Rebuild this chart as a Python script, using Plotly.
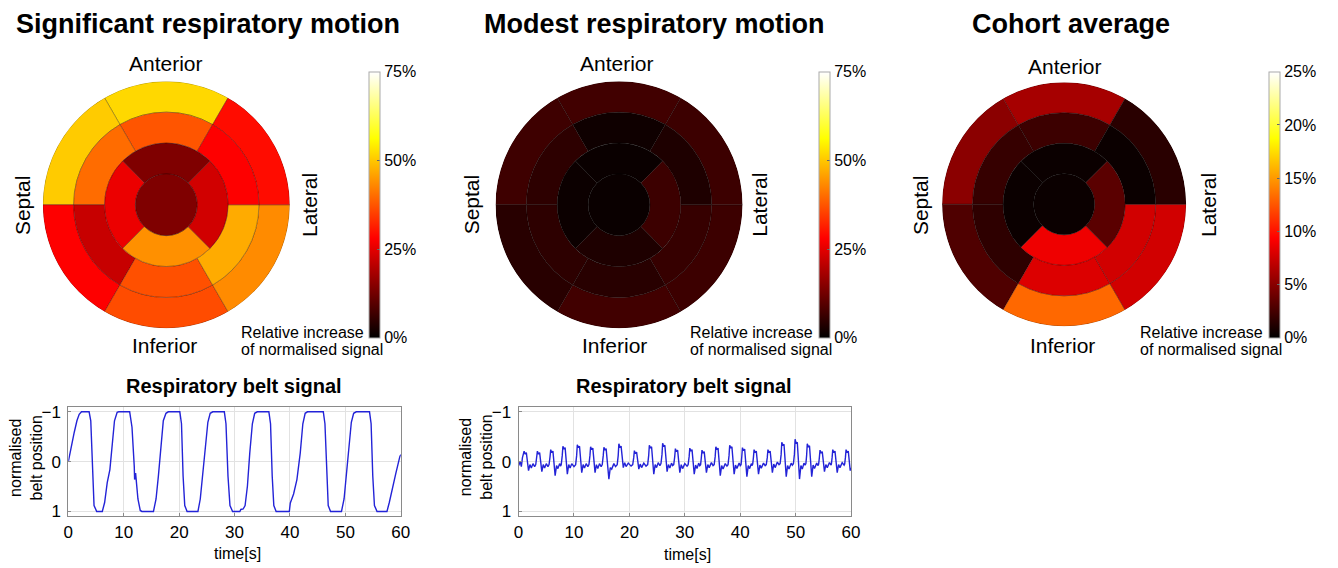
import plotly.graph_objects as go

W, H = 1338, 568
FONT = "Liberation Sans, Arial, Helvetica, sans-serif"

# ---------------- data ----------------
# segment order (basal & mid): anterior, anteroseptal, inferoseptal, inferior, inferolateral, anterolateral
# segment order (apical): anterior, septal, inferior, lateral
sig_basal = [52, 50.5, 28, 36.5, 43.5, 29.5]
sig_mid = [37.5, 40, 22, 37, 47, 28]
sig_apical = [14, 26, 44, 23]
sig_apex = [14]

mod_basal = [7.2, 6.8, 4.4, 7.2, 6.6, 6.6]
mod_mid = [1.7, 5.0, 5.0, 4.4, 6.0, 3.3]
mod_apical = [1.1, 1.3, 3.3, 6.6]
mod_apex = [1.1]

coh_basal = [6.1, 5.1, 2.9, 13.2, 7.7, 1.5]
coh_mid = [2.2, 2.0, 1.7, 8.1, 7.7, 0.4]
coh_apical = [0.4, 0.4, 8.8, 3.3]
coh_apex = [0.4]

cb_ticks_75 = [0, 25, 50, 75]
cb_ticks_25 = [0, 5, 10, 15, 20, 25]

# respiratory belt signal, significant motion
belt1_t = [0.0, 0.48, 1.07, 1.55, 1.96, 2.38, 3.75, 4.05, 4.35, 4.64, 5.12,
           6.13, 6.55, 7.02, 7.5, 7.92, 8.33, 8.81, 9.1,
           11.07, 11.49, 11.9, 11.96, 12.14, 12.26, 12.56, 12.98, 13.27,
           15.36, 15.83, 16.25, 16.67, 17.14, 17.62, 18.04,
           20.12, 20.42, 20.71, 21.01, 21.43,
           23.39, 23.81, 24.29, 24.76, 25.18, 25.6, 26.07,
           28.15, 28.45, 28.81, 29.17, 29.64,
           30.95, 31.13, 31.55, 31.9, 32.32, 32.74, 33.21, 33.63, 34.1,
           36.19, 36.49, 36.79, 37.08, 37.5,
           39.88, 40.06, 40.24, 40.65, 41.25, 41.85, 42.32, 42.74, 43.15,
           46.01, 46.31, 46.61, 46.9, 47.32,
           49.29, 49.76, 50.24, 50.71, 51.07, 51.49, 51.96,
           54.35, 54.64, 54.94, 55.24, 55.71,
           57.5, 57.92, 58.51, 59.11, 59.82, 60.0]
belt1_v = [0.0, -0.3, -0.59, -0.82, -0.95, -1.0, -1.0, -0.82, 0.29, 0.88, 1.0,
           1.0, 0.82, 0.42, 0.16, -0.36, -0.82, -0.99, -1.0,
           -1.0, -0.69, 0.1, 0.36, 0.23, 0.39, 0.75, 0.98, 1.0,
           1.0, 0.75, 0.29, -0.3, -0.82, -0.97, -1.0,
           -1.0, -0.76, 0.29, 0.88, 1.0,
           1.0, 0.75, 0.23, -0.36, -0.79, -0.97, -1.0,
           -1.0, -0.76, 0.29, 0.88, 1.0,
           1.0, 0.96, 0.95, 0.88, 0.49, -0.17, -0.76, -0.97, -1.0,
           -1.0, -0.76, 0.29, 0.88, 1.0,
           1.0, 0.83, 0.78, 0.65, 0.36, -0.17, -0.76, -0.97, -1.0,
           -1.0, -0.76, 0.29, 0.88, 1.0,
           1.0, 0.75, 0.23, -0.36, -0.79, -0.97, -1.0,
           -1.0, -0.76, 0.29, 0.88, 1.0,
           1.0, 0.82, 0.49, 0.23, -0.1, -0.14]

# respiratory belt signal, modest motion (one breathing cycle per line)
belt2_t = [0.0, 0.3, 0.5,
           0.7, 1.0, 1.2, 1.4, 1.8, 2.05, 2.3, 2.6, 2.9,
           3.1, 3.28, 3.4, 3.6, 3.8, 4.2, 4.45, 4.7, 5.0, 5.3,
           5.5, 5.68, 5.8, 6.0, 6.2, 6.6, 6.85, 7.1, 7.4, 7.6,
           7.7, 7.88, 8.0, 8.2, 8.4, 8.8, 9.05, 9.3, 9.6, 10.0,
           10.3, 10.48, 10.6, 10.8, 11.0, 11.4, 11.65, 11.9, 12.2, 12.5,
           12.7, 12.88, 13.0, 13.2, 13.4, 13.8, 14.05, 14.3, 14.6, 14.9,
           15.1, 15.28, 15.4, 15.6, 15.8, 16.3, 16.55, 16.8, 17.2, 17.5,
           17.8, 17.98, 18.1, 18.3, 18.5, 18.9, 19.15, 19.4, 19.8, 20.3,
           20.6, 20.78, 20.9, 21.1, 21.3, 21.7, 21.95, 22.2, 22.6, 23.0,
           23.3, 23.48, 23.6, 23.8, 24.0, 24.4, 24.65, 24.9, 25.2, 25.5,
           25.7, 25.88, 26.0, 26.2, 26.4, 26.8, 27.05, 27.3, 27.6, 27.8,
           28.0, 28.18, 28.3, 28.5, 28.7, 29.1, 29.35, 29.6, 30.0, 30.4,
           30.6, 30.78, 30.9, 31.1, 31.3, 31.7, 31.95, 32.2, 32.5, 32.7,
           32.85, 32.98, 33.1, 33.3, 33.5, 33.9, 34.15, 34.4, 34.8, 35.1,
           35.3, 35.48, 35.6, 35.8, 36.0, 36.4, 36.65, 36.9, 37.3, 37.6,
           37.8, 37.98, 38.1, 38.3, 38.5, 38.9, 39.15, 39.4, 39.8, 40.0,
           40.15, 40.28, 40.4, 40.6, 40.8, 41.2, 41.45, 41.7, 42.0, 42.15,
           42.25, 42.38, 42.5, 42.7, 42.9, 43.3, 43.55, 43.8, 44.2, 44.5,
           44.7, 44.88, 45.0, 45.2, 45.4, 45.8, 46.05, 46.3, 46.7, 47.0,
           47.2, 47.38, 47.5, 47.7, 47.9, 48.3, 48.55, 48.8, 49.2, 49.4,
           49.6, 49.78, 49.9, 50.1, 50.3, 50.7, 50.95, 51.2, 51.5, 51.7,
           51.85, 51.98, 52.1, 52.3, 52.5, 52.9, 53.15, 53.4, 53.8, 54.05,
           54.15, 54.28, 54.4, 54.6, 54.8, 55.2, 55.45, 55.7, 56.1, 56.4,
           56.45, 56.58, 56.7, 56.9, 57.1, 57.5, 57.75, 58.0, 58.4, 58.75,
           58.85, 58.98, 59.1, 59.3, 59.5, 59.85, 60.0]
belt2_v = [0.08, 0.0, 0.1,
           -0.08, -0.21, -0.15, -0.18, 0.18, 0.06, 0.13, 0.04, 0.1,
           0.06, -0.1, -0.21, -0.15, -0.18, 0.2, 0.06, 0.13, 0.04, 0.1,
           0.06, -0.1, -0.24, -0.18, -0.21, 0.28, 0.08, 0.14, 0.04, 0.09,
           0.06, -0.12, -0.31, -0.25, -0.28, 0.25, 0.06, 0.13, 0.04, 0.1,
           0.06, -0.12, -0.34, -0.28, -0.31, 0.22, 0.06, 0.13, 0.04, 0.1,
           0.06, -0.12, -0.3, -0.24, -0.27, 0.22, 0.06, 0.14, 0.04, 0.1,
           0.06, -0.12, -0.29, -0.23, -0.26, 0.35, 0.12, 0.15, 0.04, 0.1,
           0.06, -0.12, -0.36, -0.28, -0.31, 0.12, 0.02, 0.1, 0.03, 0.09,
           0.06, -0.08, -0.22, -0.16, -0.19, 0.15, 0.05, 0.12, 0.03, 0.09,
           0.06, -0.12, -0.33, -0.27, -0.3, 0.25, 0.06, 0.12, 0.02, 0.08,
           0.04, -0.14, -0.37, -0.3, -0.33, 0.2, 0.06, 0.13, 0.03, 0.08,
           0.06, -0.1, -0.26, -0.2, -0.23, 0.22, 0.06, 0.14, 0.04, 0.09,
           0.06, -0.1, -0.27, -0.21, -0.24, 0.25, 0.07, 0.14, 0.03, 0.08,
           0.06, -0.08, -0.23, -0.17, -0.2, 0.22, 0.06, 0.12, 0.02, 0.08,
           0.06, -0.1, -0.3, -0.24, -0.27, 0.28, 0.08, 0.15, 0.04, 0.09,
           0.06, -0.12, -0.33, -0.27, -0.3, 0.25, 0.07, 0.14, 0.03, 0.08,
           0.06, -0.1, -0.28, -0.22, -0.25, 0.3, 0.08, 0.14, 0.04, 0.08,
           0.05, -0.08, -0.24, -0.18, -0.21, 0.25, 0.07, 0.13, 0.03, 0.08,
           0.06, -0.08, -0.24, -0.18, -0.21, 0.22, 0.05, 0.12, 0.01, 0.06,
           0.04, -0.14, -0.39, -0.32, -0.35, 0.3, 0.08, 0.15, 0.03, 0.07,
           0.04, -0.15, -0.45, -0.36, -0.39, 0.35, 0.08, 0.15, 0.03, 0.07,
           0.04, -0.12, -0.36, -0.29, -0.32, 0.3, 0.07, 0.14, 0.03, 0.08,
           0.05, -0.08, -0.23, -0.17, -0.2, 0.2, 0.06, 0.12, 0.02, 0.07,
           0.05, -0.08, -0.24, -0.18, -0.21, 0.22, 0.06, 0.12, 0.02, 0.07,
           0.05, -0.08, -0.24, -0.18, -0.21, 0.18, 0.12]

time_ticks = [0, 10, 20, 30, 40, 50, 60]
belt_ticks = [-1, 0, 1]

# ---------------- helpers ----------------
def px(x):
    return x / W


def py(y):
    return 1 - y / H


HOT = [[0, "rgb(0,0,0)"], [0.375, "rgb(255,0,0)"], [0.75, "rgb(255,255,0)"], [1, "rgb(255,255,255)"]]
BASAL_THETA = [90, 150, 210, 270, 330, 30]
APICAL_THETA = [90, 180, 270, 0]

fig = go.Figure()


def bullseye(vb, vm, va, vx, cmax, ticks, subplot, cb_left):
    color = vb + vm + va + vx
    theta = BASAL_THETA + BASAL_THETA + APICAL_THETA + [0]
    width = [60] * 12 + [90] * 4 + [360]
    base = [3] * 6 + [2] * 6 + [1] * 4 + [0]
    r = [1] * 17
    fig.add_trace(go.Barpolar(
        r=r, base=base, theta=theta, width=width,
        marker=dict(
            color=color, colorscale=HOT, cmin=0, cmax=cmax,
            line=dict(color="rgba(0,0,0,0.38)", width=0.7),
            showscale=True,
            colorbar=dict(
                x=px(cb_left), xanchor="left", xpad=0,
                y=py(204), yanchor="middle", ypad=0,
                len=266, lenmode="pixels",
                thickness=11, thicknessmode="pixels",
                outlinewidth=1, outlinecolor="#aaaaaa",
                tickvals=ticks, ticktext=[f"{t}%" for t in ticks],
                ticks="inside", ticklen=3, tickcolor="#666",
                tickfont=dict(family=FONT, size=16, color="black"),
            ),
        ),
        subplot=subplot, showlegend=False, hoverinfo="skip",
    ))


bullseye(sig_basal, sig_mid, sig_apical, sig_apex, 75, cb_ticks_75, "polar", 368)
bullseye(mod_basal, mod_mid, mod_apical, mod_apex, 75, cb_ticks_75, "polar2", 823)
bullseye(coh_basal, coh_mid, coh_apical, coh_apex, 25, cb_ticks_25, "polar3", 1277)

fig.add_trace(go.Scatter(x=belt1_t, y=belt1_v, mode="lines",
                         line=dict(color="rgb(35,35,215)", width=1.4),
                         xaxis="x", yaxis="y", showlegend=False, hoverinfo="skip"))
fig.add_trace(go.Scatter(x=belt2_t, y=belt2_v, mode="lines",
                         line=dict(color="rgb(35,35,215)", width=1.4),
                         xaxis="x2", yaxis="y2", showlegend=False, hoverinfo="skip"))


def polar_layout(cx, cy, rad):
    return dict(
        domain=dict(x=[px(cx - rad), px(cx + rad)], y=[py(cy + rad), py(cy - rad)]),
        radialaxis=dict(visible=False, range=[0, 4]),
        angularaxis=dict(visible=False),
        bgcolor="white",
        barmode="overlay",
    )


def xax(l, r, anchor):
    return dict(domain=[px(l), px(r)], range=[0, 60], tickvals=time_ticks,
                showgrid=True, gridcolor="#e2e2e2", gridwidth=1, zeroline=False,
                showline=True, mirror=True, linecolor="#8a8a8a", linewidth=1,
                ticks="inside", ticklen=3, tickcolor="#8a8a8a",
                tickfont=dict(family=FONT, size=17, color="black"), anchor=anchor)


def yax(anchor):
    return dict(domain=[py(520.7), py(409.3)], range=[1.1, -1.1], tickvals=belt_ticks,
                showgrid=True, gridcolor="#e2e2e2", gridwidth=1, zeroline=False,
                showline=True, mirror=True, linecolor="#8a8a8a", linewidth=1,
                ticks="inside", ticklen=3, tickcolor="#8a8a8a", ticklabelstandoff=3,
                tickfont=dict(family=FONT, size=17, color="black"), anchor=anchor)


ann = []


def text(x, y, s, size, bold=False, angle=0, xanchor="center"):
    ann.append(dict(x=px(x), y=py(y), xref="paper", yref="paper", text=f"<b>{s}</b>" if bold else s,
                    showarrow=False, textangle=angle, xanchor=xanchor, yanchor="middle",
                    font=dict(family=FONT, size=size, color="black")))


# titles
text(205, 20, "Significant respiratory motion", 27, bold=True)
text(656, 20, "Modest respiratory motion", 27, bold=True)
text(1077, 20, "Cohort average", 27, bold=True)

# bullseye direction labels
for cx, sx, lx, ay in [(163, 17.5, 307.5, 60), (618, 471.5, 763, 60), (1071, 925, 1217, 63)]:
    text(cx, ay, "Anterior", 21)
    text(cx - 2, 347, "Inferior", 21)
    text(sx, 204, "Septal", 21, angle=-90)
    text(lx, 204, "Lateral", 21, angle=-90)

# colorbar captions
for lx in [236, 690.5, 1144.5]:
    text(lx, 334, "Relative increase", 16, xanchor="left")
    text(lx, 351.5, "of normalised signal", 16, xanchor="left")

# line plot labels
text(231, 388, "Respiratory belt signal", 20, bold=True)
text(686, 388, "Respiratory belt signal", 20, bold=True)
text(234.5, 558, "time[s]", 16)
text(690, 559, "time[s]", 16)
text(21, 461, "normalised<br>belt position", 16, angle=-90)
text(476, 461, "normalised<br>belt position", 16, angle=-90)

fig.update_layout(
    width=W, height=H, margin=dict(l=0, r=0, t=0, b=0),
    paper_bgcolor="white", plot_bgcolor="white", showlegend=False,
    polar=polar_layout(163, 204, 125.5),
    polar2=polar_layout(620.5, 204, 125.5),
    polar3=polar_layout(1070.3, 203.5, 124),
    xaxis=xax(64, 400, "y"), yaxis=yax("x"),
    xaxis2=xax(519, 855, "y2"), yaxis2=yax("x2"),
    annotations=ann,
)

fig.write_html("out.html", config={"displayModeBar": False},
               post_script="document.body.style.margin='0px';")
